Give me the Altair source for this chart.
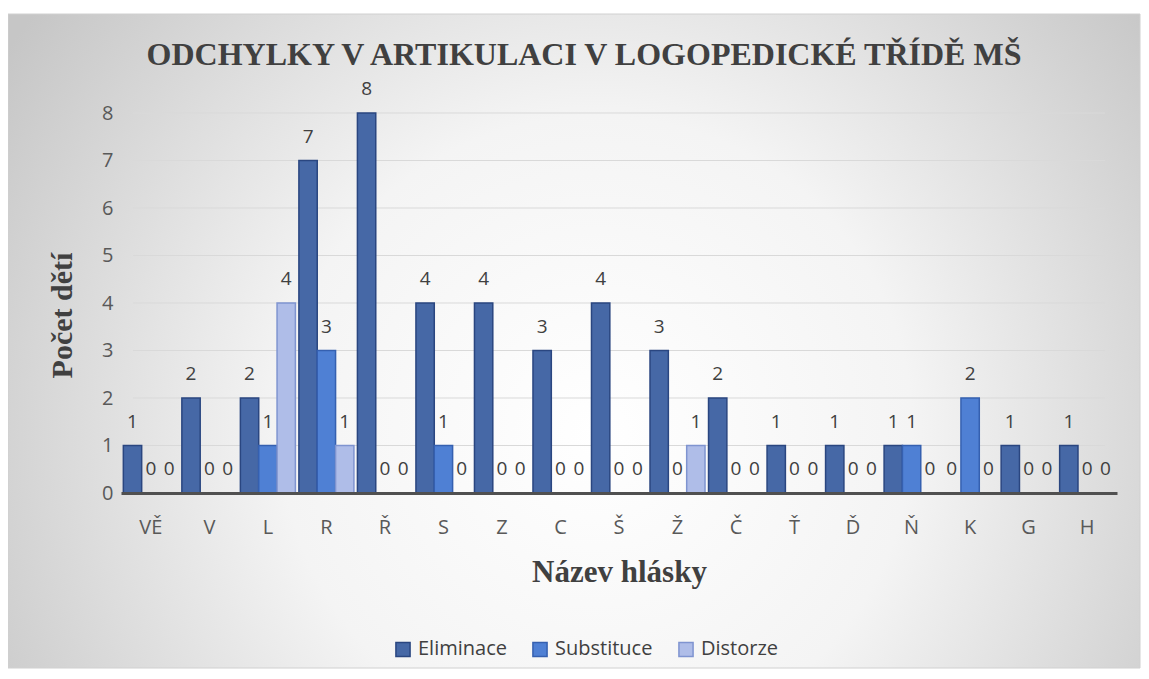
import altair as alt
import pandas as pd

cats = ["VĚ", "V", "L", "R", "Ř", "S", "Z", "C", "Š", "Ž", "Č", "Ť", "Ď", "Ň", "K", "G", "H"]
series = ["Eliminace", "Substituce", "Distorze"]
eliminace = [1, 2, 2, 7, 8, 4, 4, 3, 4, 3, 2, 1, 1, 1, 0, 1, 1]
substituce = [0, 0, 1, 3, 0, 1, 0, 0, 0, 0, 0, 0, 0, 1, 2, 0, 0]
distorze = [0, 0, 4, 1, 0, 0, 0, 0, 0, 1, 0, 0, 0, 0, 0, 0, 0]
y_ticks = [0, 1, 2, 3, 4, 5, 6, 7, 8]
title_text = "ODCHYLKY V ARTIKULACI V LOGOPEDICKÉ TŘÍDĚ MŠ"

fills = ["#4668a6", "#4f80d4", "#afbde8"]
strokes = ["#2a4680", "#3560b0", "#7f94d0"]

rows = []
for s, vals in zip(series, [eliminace, substituce, distorze]):
    for c, v in zip(cats, vals):
        rows.append({"hlaska": c, "serie": s, "pocet": v})
df = pd.DataFrame(rows)
grid_df = pd.DataFrame({"pocet": y_ticks})

W, H = 996, 380
PL, PT = 113, 105
OX, OY = 8 + PL, 8 + PT  # page position of plot origin

bg = alt.Chart(alt.Data(values=[{"a": 1}])).mark_rect(
    fill=alt.Gradient(
        gradient="radial",
        x1=0.52, y1=0.58, r1=0.0,
        x2=0.52, y2=0.58, r2=0.62,
        stops=[
            alt.GradientStop(color="#ffffff", offset=0),
            alt.GradientStop(color="#f4f4f4", offset=0.45),
            alt.GradientStop(color="#c6c6c6", offset=1),
        ],
    ),
    stroke="#d0d0d0",
    strokeWidth=1,
).encode(
    x=alt.value(8 - OX),
    x2=alt.value(1140 - OX),
    y=alt.value(14 - OY),
    y2=alt.value(668 - OY),
)

title = alt.Chart(alt.Data(values=[{"t": title_text}])).mark_text(
    font="Liberation Serif",
    fontSize=32,
    fontWeight="bold",
    color="#404040",
    align="center",
    baseline="middle",
).encode(
    x=alt.value(584 - OX),
    y=alt.value(55 - OY),
    text="t:N",
)

grid = alt.Chart(grid_df).mark_rule(color="#d9d9d9", strokeWidth=1).encode(
    y=alt.Y("pocet:Q", scale=alt.Scale(domain=[0, 8], nice=False)),
    x=alt.value(12),
    x2=alt.value(W - 12),
)

xenc = alt.X(
    "hlaska:N",
    sort=cats,
    scale=alt.Scale(paddingInner=0.06, paddingOuter=0.04),
    axis=alt.Axis(
        title="Název hlásky",
        titleFont="Liberation Serif",
        titleFontSize=31,
        titleFontWeight="bold",
        titleColor="#404040",
        titleY=79,
        titleBaseline="middle",
        labelAngle=0,
        labelFont="Open Sans",
        labelFontSize=20,
        labelColor="#595959",
        labelPadding=24,
        ticks=False,
        domainColor="#505050",
        domainWidth=3,
        grid=False,
        zindex=1,
    ),
)
yenc = alt.Y(
    "pocet:Q",
    scale=alt.Scale(domain=[0, 8], nice=False),
    axis=alt.Axis(
        values=y_ticks,
        title="Počet dětí",
        titleFont="Liberation Serif",
        titleFontSize=30,
        titleFontWeight="bold",
        titleColor="#404040",
        titleX=-59,
        titleY=202,
        titleAngle=270,
        titleAlign="center",
        titleBaseline="middle",
        labelFont="Open Sans",
        labelFontSize=20,
        labelColor="#595959",
        labelPadding=8,
        ticks=False,
        domain=False,
        grid=False,
        zindex=1,
    ),
)
xoff = alt.XOffset("serie:N", sort=series)

bars = alt.Chart(df).mark_bar(strokeWidth=1.5).encode(
    x=xenc,
    y=yenc,
    xOffset=xoff,
    color=alt.Color(
        "serie:N",
        sort=series,
        scale=alt.Scale(domain=series, range=fills),
        legend=alt.Legend(
            title=None,
            orient="none",
            legendX=272,
            legendY=526,
            direction="horizontal",
            symbolType="square",
            symbolSize=200,
            symbolStrokeColor="#3a5590",
            symbolStrokeWidth=1.5,
            symbolOpacity=1,
            labelFont="Open Sans",
            labelFontSize=20,
            labelColor="#404040",
            columnPadding=22,
            labelOffset=5,
            zindex=1,
        ),
    ),
    stroke=alt.Stroke(
        "serie:N",
        sort=series,
        scale=alt.Scale(domain=series, range=strokes),
        legend=None,
    ),
)

labels = alt.Chart(df).mark_text(
    font="Open Sans",
    fontSize=19,
    color="#404040",
    dy=-24,
    baseline="middle",
).encode(
    x=alt.X("hlaska:N", sort=cats),
    y="pocet:Q",
    xOffset=xoff,
    text="pocet:Q",
)

chart = alt.layer(bg, title, grid, bars, labels).properties(
    width=W,
    height=H,
    padding={"left": PL, "top": PT, "right": 1133 - PL - W, "bottom": 663 - PT - H},
    autosize=alt.AutoSizeParams(type="none"),
    background="#ffffff",
).configure_view(stroke=None)

chart.save("out.html", embed_options={"renderer": "svg", "actions": False})
